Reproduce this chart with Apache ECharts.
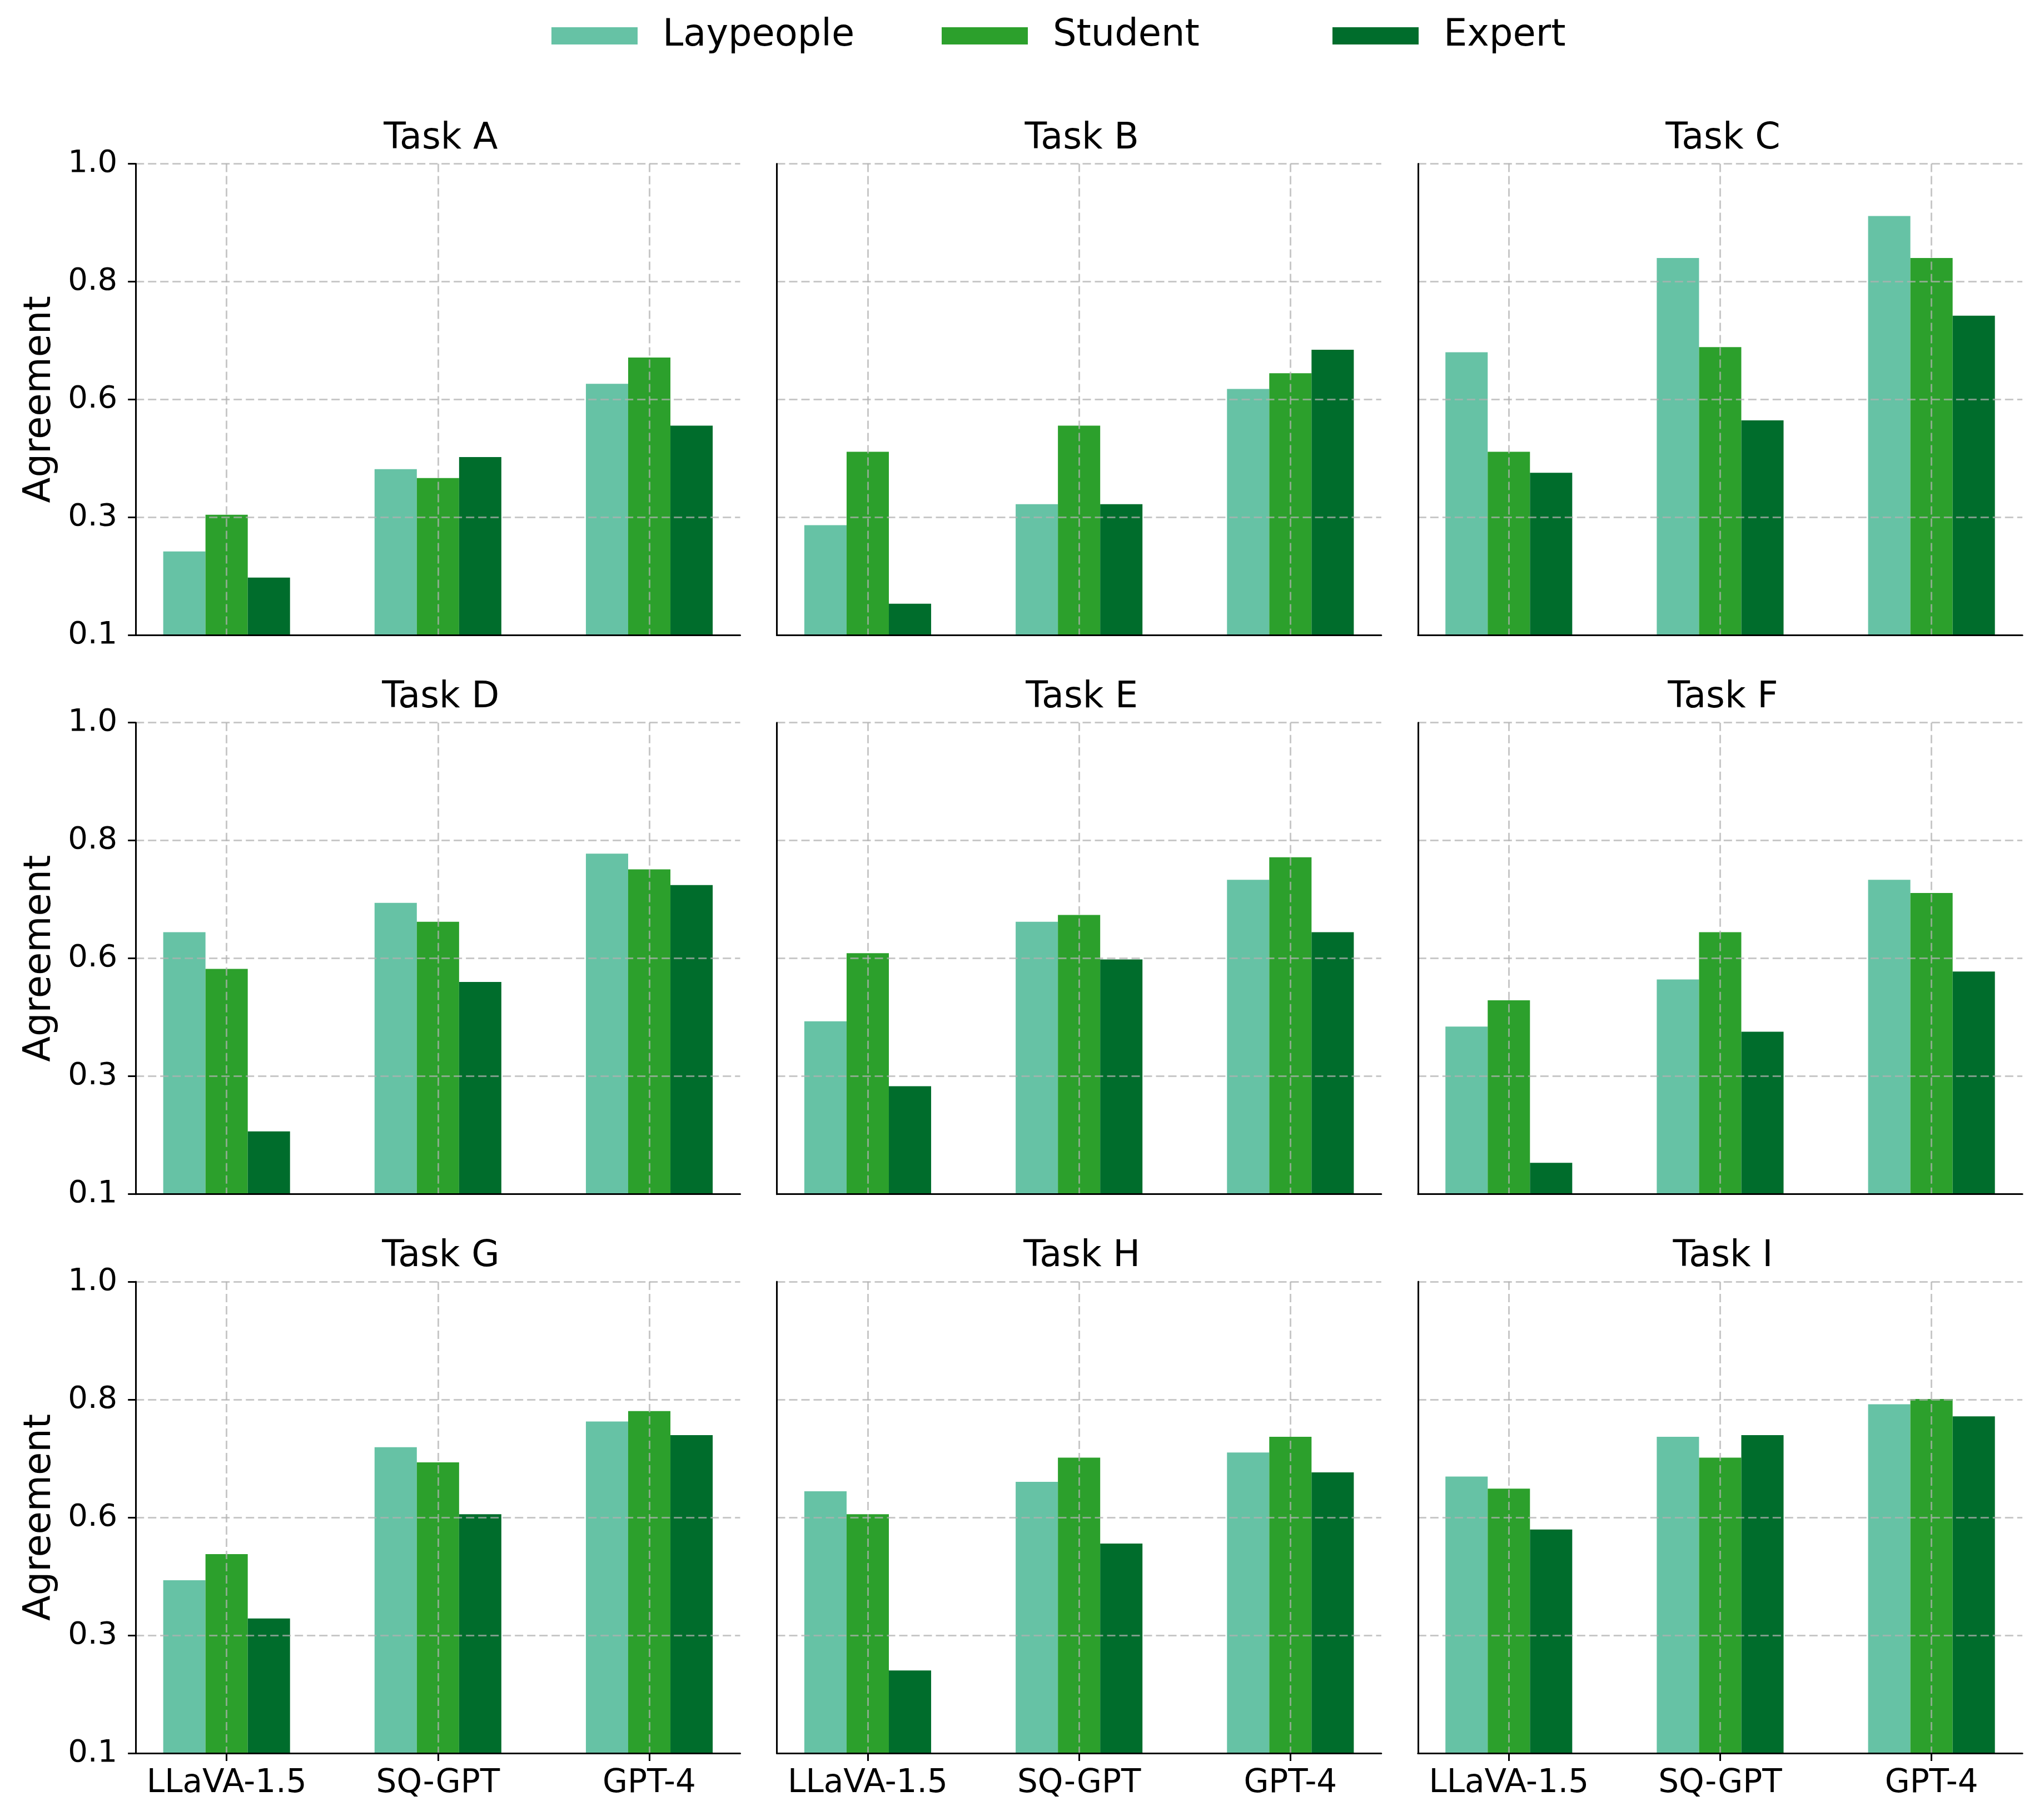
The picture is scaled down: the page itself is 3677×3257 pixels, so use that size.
<!DOCTYPE html>
<html><head><meta charset="utf-8">
<script src="https://cdn.jsdelivr.net/npm/echarts@6/dist/echarts.min.js"></script>
<style>html,body{margin:0;padding:0;background:#fff}#c{width:3677px;height:3257px}</style>
</head><body><div id="c"></div><script>
const categories = ['LLaVA-1.5', 'SQ-GPT', 'GPT-4'];
const tasks = ['Task A', 'Task B', 'Task C', 'Task D', 'Task E', 'Task F', 'Task G', 'Task H', 'Task I'];
const groups = ['Laypeople', 'Student', 'Expert'];
// one row per task, values per model (LLaVA-1.5, SQ-GPT, GPT-4)
const laypeople = [
  [0.26, 0.417, 0.58],
  [0.31, 0.35, 0.57],
  [0.64, 0.82, 0.90],
  [0.60, 0.656, 0.75],
  [0.43, 0.62, 0.70],
  [0.42, 0.51, 0.70],
  [0.43, 0.684, 0.733],
  [0.60, 0.618, 0.674],
  [0.628, 0.704, 0.766]
];
const student = [
  [0.33, 0.40, 0.63],
  [0.45, 0.50, 0.60],
  [0.45, 0.65, 0.82],
  [0.53, 0.62, 0.72],
  [0.56, 0.633, 0.743],
  [0.47, 0.60, 0.675],
  [0.48, 0.655, 0.753],
  [0.556, 0.664, 0.704],
  [0.605, 0.664, 0.776]
];
const expert = [
  [0.21, 0.44, 0.50],
  [0.16, 0.35, 0.645],
  [0.41, 0.51, 0.71],
  [0.22, 0.505, 0.69],
  [0.306, 0.548, 0.60],
  [0.16, 0.41, 0.525],
  [0.357, 0.556, 0.707],
  [0.258, 0.50, 0.636],
  [0.527, 0.707, 0.743]
];
const yTickValues = [0.1, 0.325, 0.55, 0.775, 1.0];
const yTickLabels = ['0.1', '0.3', '0.6', '0.8', '1.0'];
const xTickValues = [0, 1, 2];

const colors = ['#66c2a5', '#2ca02c', '#006d2c'];
const seriesData = [laypeople, student, expert];
const colLeft = [244.2, 1397.5, 2550.8];
const rowTop = [294.4, 1299.7, 2305.0];
const gw = 1087.3, gh = 848;
const FONT = 'DejaVu Sans';
const gridColor = 'rgba(176,176,176,0.7)';

const grids = [], xAxes = [], yAxes = [], series = [], titles = [];
tasks.forEach((t, k) => {
  const r = Math.floor(k / 3), c = k % 3;
  grids.push({ left: colLeft[c], top: rowTop[r], width: gw, height: gh, containLabel: false });
  titles.push({
    text: t, left: colLeft[c] + gw / 2, top: rowTop[r] - 82, textAlign: 'center',
    textStyle: { fontSize: 65, fontWeight: 'normal', color: '#000', fontFamily: FONT }
  });
  xAxes.push({
    gridIndex: k, type: 'value', min: -0.43, max: 2.43, z: 5,
    axisLine: { show: true, onZero: false, lineStyle: { color: '#000', width: 3 } },
    axisTick: { show: r === 2, customValues: xTickValues, length: 14, lineStyle: { color: '#000', width: 3 } },
    axisLabel: {
      show: r === 2, customValues: xTickValues, margin: 26, fontSize: 58, color: '#000', fontFamily: FONT,
      formatter: v => categories[Math.round(v)]
    },
    splitLine: { show: true, lineStyle: { color: gridColor, width: 3, type: [15, 7] } }
  });
  yAxes.push({
    gridIndex: k, type: 'value', min: 0.1, max: 1.0, interval: 0.225, z: 5,
    name: c === 0 ? 'Agreement' : '', nameLocation: 'middle', nameRotate: 90, nameGap: 138,
    nameTextStyle: { fontSize: 67, color: '#000', fontFamily: FONT },
    axisLine: { show: true, onZero: false, lineStyle: { color: '#000', width: 3 } },
    axisTick: { show: c === 0, customValues: yTickValues, length: 14, lineStyle: { color: '#000', width: 3 } },
    axisLabel: {
      show: c === 0, customValues: yTickValues, margin: 33, fontSize: 56, color: '#000', fontFamily: FONT,
      formatter: v => {
        let bi = 0;
        yTickValues.forEach((tv, i) => { if (Math.abs(tv - v) < Math.abs(yTickValues[bi] - v)) bi = i; });
        return yTickLabels[bi];
      }
    },
    splitLine: { show: true, lineStyle: { color: gridColor, width: 3, type: [15, 7] } }
  });
  groups.forEach((g, gi) => {
    series.push({
      type: 'bar', name: g, xAxisIndex: k, yAxisIndex: k, clip: true,
      barWidth: '20%', barGap: '0%',
      itemStyle: { color: colors[gi] },
      data: seriesData[gi][k].map((v, i) => [i, v])
    });
  });
});

const legendLeft = [987, 1689, 2392];
const legends = groups.map((g, gi) => ({
  data: [g], left: legendLeft[gi], top: 26, icon: 'rect',
  itemWidth: 155, itemHeight: 31,
  textStyle: { fontSize: 67, color: '#000', fontFamily: FONT, padding: [0, 0, 0, 40] }
}));

const chart = echarts.init(document.getElementById('c'), null, { renderer: 'canvas' });
chart.setOption({
  backgroundColor: '#fff',
  animation: false,
  color: colors,
  textStyle: { fontFamily: FONT },
  title: titles,
  legend: legends,
  grid: grids,
  xAxis: xAxes,
  yAxis: yAxes,
  series: series
});
</script></body></html>
